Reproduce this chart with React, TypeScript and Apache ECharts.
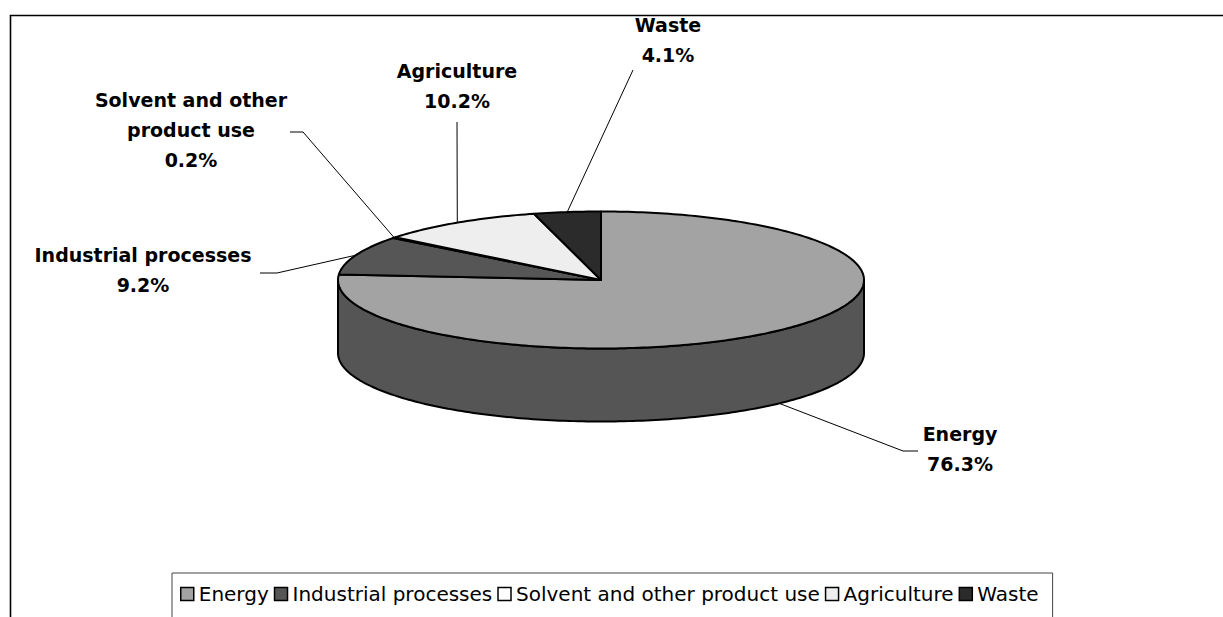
import React, { useEffect, useRef } from "react";
import * as echarts from "echarts";

// ---- data ----
const categories = ["Energy", "Industrial processes", "Solvent and other product use", "Agriculture", "Waste"];
const shares = [76.3, 9.2, 0.2, 10.2, 4.1];
const labelNames = ["Energy", "Industrial processes", "Solvent and other\nproduct use", "Agriculture", "Waste"];

// ---- styles ----
const topColors = ["#a3a3a3", "#565656", "#ffffff", "#eeeeee", "#2b2b2b"];
const sideColors = ["#555555", "#2e2e2e", "#bbbbbb", "#aaaaaa", "#151515"];

// ---- layout ----
const CX = 601;
const CY = 280;
const RX = 263;
const RY = 68.5;
const DEPTH = 73;
const labelLayout = [
  { elbow: [903, 451], end: [918, 451], text: [960, 449] },
  { elbow: [277, 273], end: [260, 273], text: [143, 270] },
  { elbow: [303, 132], end: [290, 132], text: [191, 130] },
  { elbow: [457, 122], end: [457, 122], text: [457, 86] },
  { elbow: [633, 70], end: [633, 70], text: [668, 40] },
];

const total = shares.reduce((a, b) => a + b, 0);
const pt = (deg: number, dy = 0): number[] => {
  const r = (deg * Math.PI) / 180;
  return [CX + RX * Math.sin(r), CY - RY * Math.cos(r) + dy];
};
const arc = (a: number, b: number, dy = 0): number[][] => {
  const pts: number[][] = [];
  const n = Math.max(2, Math.ceil(Math.abs(b - a) / 1));
  for (let k = 0; k <= n; k++) pts.push(pt(a + ((b - a) * k) / n, dy));
  return pts;
};

function makeSeries(i: number) {
  return {
    type: "custom",
    name: categories[i],
    coordinateSystem: "none",
    itemStyle: { color: topColors[i] },
    data: [shares[i]],
    renderItem: (_params: any, api: any) => {
      const v = api.value(0) as number;
      const before = shares.slice(0, i).reduce((a, b) => a + b, 0);
      const a0 = (before / total) * 360;
      const a1 = ((before + v) / total) * 360;
      const children: any[] = [];
      const s = Math.max(a0, 90);
      const e = Math.min(a1, 270);
      if (e > s) {
        const pts = [...arc(s, e), ...arc(e, s, DEPTH)];
        children.push({
          type: "polygon",
          z2: 1,
          shape: { points: pts },
          style: { fill: sideColors[i], stroke: "#000", lineWidth: 2, lineJoin: "round" },
        });
      }
      children.push({
        type: "polygon",
        z2: 10,
        shape: { points: [[CX, CY], ...arc(a0, a1)] },
        style: { fill: topColors[i], stroke: "#000", lineWidth: 2, lineJoin: "round" },
      });
      const mid = (a0 + a1) / 2;
      const start = pt(mid, mid > 90 && mid < 270 ? DEPTH : 0);
      const L = labelLayout[i];
      children.push({
        type: "polyline",
        z2: 20,
        shape: { points: [start, L.elbow, L.end] },
        style: { stroke: "#000", lineWidth: 1, fill: null },
      });
      children.push({
        type: "text",
        z2: 20,
        style: {
          text: labelNames[i] + "\n" + v.toFixed(1) + "%",
          x: L.text[0],
          y: L.text[1],
          align: "center",
          verticalAlign: "middle",
          fontFamily: "DejaVu Sans",
          fontWeight: "bold",
          fontSize: 19,
          lineHeight: 30,
          fill: "#000",
        },
      });
      return { type: "group", children };
    },
  };
}

export default function App() {
  const ref = useRef<HTMLDivElement>(null);
  useEffect(() => {
    if (!ref.current) return;
    const chart = echarts.init(ref.current, null, { renderer: "svg" });
    chart.setOption({
      animation: false,
      backgroundColor: "#ffffff",
      color: topColors,
      graphic: [
        {
          type: "rect",
          silent: true,
          z: 0,
          shape: { x: 10.5, y: 15.5, width: 1400, height: 800 },
          style: { fill: "none", stroke: "#000", lineWidth: 1.6 },
        },
      ],
      legend: {
        data: categories,
        left: 172,
        top: 573,
        orient: "horizontal",
        padding: [11, 14, 40, 8],
        itemGap: 5,
        itemWidth: 13,
        itemHeight: 13,
        icon: "rect",
        backgroundColor: "#ffffff",
        borderColor: "#444",
        borderWidth: 1,
        itemStyle: { borderColor: "#000", borderWidth: 1.5 },
        textStyle: { fontFamily: "DejaVu Sans", fontSize: 20, color: "#000", padding: [0, 0, 0, 0] },
        selectedMode: false,
      },
      series: categories.map((_, i) => makeSeries(i)),
    });
    return () => chart.dispose();
  }, []);
  return (
    <div
      ref={ref}
      style={{ position: "fixed", left: 0, top: 0, width: 1223, height: 617, background: "#fff" }}
    />
  );
}
